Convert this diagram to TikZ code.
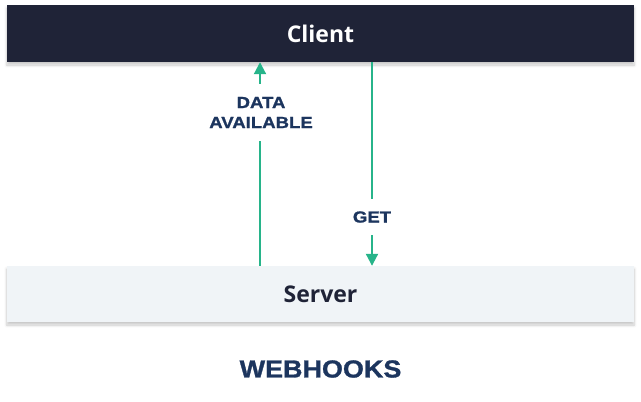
\documentclass[tikz,border=0pt]{standalone}
\usepackage{fontspec}
\usetikzlibrary{arrows.meta,shadows.blur}
\newfontfamily\boxfont{Open Sans}
\newfontfamily\labfont[FakeStretch=1.16,FakeBold=1.2]{Liberation Sans}
\newfontfamily\titlefont[FakeStretch=1.1,FakeBold=1.2]{Liberation Sans}
\definecolor{clientbg}{HTML}{1F2337}
\definecolor{serverbg}{HTML}{F0F4F7}
\definecolor{navy}{HTML}{1C355E}
\definecolor{flow}{HTML}{27B48A}
\begin{document}
\begin{tikzpicture}[x=1bp,y=-1bp,
  boxstyle/.style={rectangle,minimum width=627bp,inner sep=0pt,
    font=\boxfont\bfseries\fontsize{23bp}{26bp}\selectfont,
    blur shadow={shadow xshift=0bp,shadow yshift=-3bp,shadow blur steps=6,shadow opacity=22,shadow blur radius=3bp}},
  lab/.style={text=navy,font=\labfont\bfseries\fontsize{16bp}{20bp}\selectfont,align=center,inner xsep=2bp},
  flowline/.style={draw=flow,line width=2bp},
  flowarrow/.style={flowline,-{Triangle[length=12bp,width=12bp]}}]
\useasboundingbox (0,0) rectangle (641,401);
\node[boxstyle,fill=clientbg,text=white,minimum height=57bp] (client) at (320.5,33.5) {Client};
\node[boxstyle,fill=serverbg,text=clientbg,minimum height=56bp] (server) at (320.5,294) {Server};
\node[lab,inner ysep=13bp] (data) at (261,112.5) {DATA\\AVAILABLE};
\node[lab,inner ysep=12.5bp] (get) at (372,217) {GET};
\node[text=navy,font=\titlefont\bfseries\fontsize{24.5bp}{28bp}\selectfont,inner sep=0pt] (title) at (320.5,369) {WEBHOOKS};
\draw[flowline] (server.north -| 260,0) -- (data.south -| 260,0);
\draw[flowarrow] (data.north -| 260,0) -- (client.south -| 260,0);
\draw[flowline] (client.south -| get) -- (get.north);
\draw[flowarrow] (get.south) -- (server.north -| get);
\end{tikzpicture}
\end{document}
